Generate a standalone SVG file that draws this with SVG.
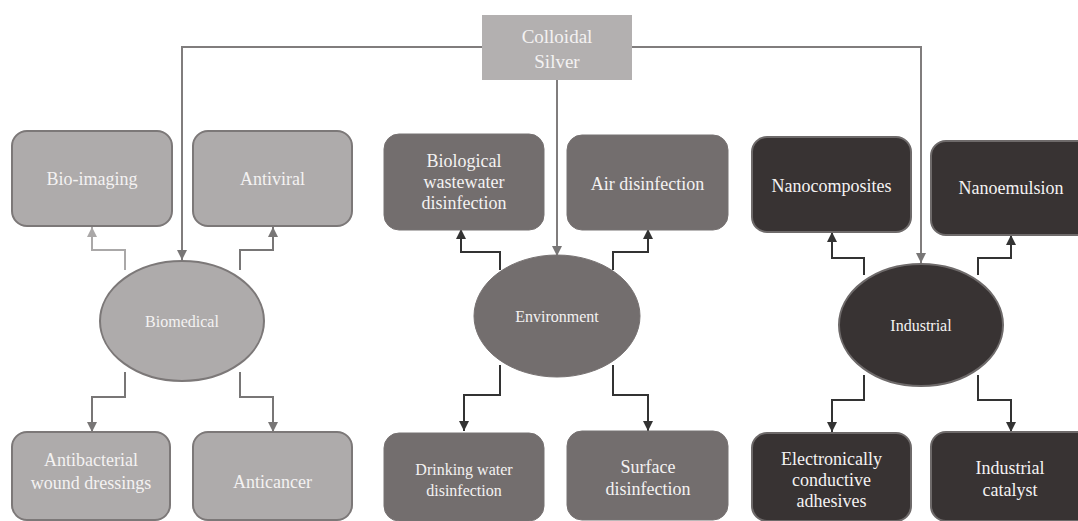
<svg xmlns="http://www.w3.org/2000/svg" width="1078" height="521" viewBox="0 0 1078 521" font-family="'Liberation Serif', 'DejaVu Serif', serif">
<style>
text{font-family:'Liberation Serif','DejaVu Serif',serif;fill:#f4f2f2;text-anchor:middle}
.t{font-size:18px}
.s{font-size:16px}
.e{font-size:16px}
.c{font-size:19px}
.bio{fill:#aeabab;stroke:#7c7878;stroke-width:2}
.env{fill:#736e6e;stroke:#777272;stroke-width:1}
.ind{fill:#383333;stroke:#6e6a6a;stroke-width:2}
.cl{fill:none;stroke-width:2}
</style>
<defs>
<marker id="aG" viewBox="0 0 10 10" refX="10" refY="5" markerWidth="5" markerHeight="5" orient="auto" markerUnits="strokeWidth"><path d="M0,0L10,5L0,10z" fill="#787676"/></marker>
<marker id="aL" viewBox="0 0 10 10" refX="10" refY="5" markerWidth="5" markerHeight="5" orient="auto" markerUnits="strokeWidth"><path d="M0,0L10,5L0,10z" fill="#aaa8a8"/></marker>
<marker id="aD" viewBox="0 0 10 10" refX="10" refY="5" markerWidth="5" markerHeight="5" orient="auto" markerUnits="strokeWidth"><path d="M0,0L10,5L0,10z" fill="#333"/></marker>
</defs>
<g id="connectors">
<path class="cl" stroke="#807d7d" d="M482,47H182V260" marker-end="url(#aG)"/>
<path class="cl" stroke="#807d7d" d="M632,47H921V263" marker-end="url(#aG)"/>
<path class="cl" stroke="#807d7d" d="M557,80V256" marker-end="url(#aG)"/>
<path class="cl" stroke="#aaa8a8" d="M125,270V250H92V227" marker-end="url(#aL)"/>
<path class="cl" stroke="#787676" d="M240,270V250H273V227" marker-end="url(#aG)"/>
<path class="cl" stroke="#787676" d="M125,372V397H92V432" marker-end="url(#aG)"/>
<path class="cl" stroke="#787676" d="M240,372V397H273V432" marker-end="url(#aG)"/>
<path class="cl" stroke="#333" d="M500,270V252H461V229" marker-end="url(#aD)"/>
<path class="cl" stroke="#333" d="M613,270V252H648V229" marker-end="url(#aD)"/>
<path class="cl" stroke="#333" d="M500,365V395H464V431" marker-end="url(#aD)"/>
<path class="cl" stroke="#333" d="M613,365V395H648V431" marker-end="url(#aD)"/>
<path class="cl" stroke="#333" d="M864,275V258H832V232" marker-end="url(#aD)"/>
<path class="cl" stroke="#333" d="M978,275V258H1011V235" marker-end="url(#aD)"/>
<path class="cl" stroke="#333" d="M864,375V400H832V432" marker-end="url(#aD)"/>
<path class="cl" stroke="#333" d="M978,375V400H1011V432" marker-end="url(#aD)"/>
</g>
<g id="colloidal-silver">
<rect x="482" y="15" width="150" height="65" fill="#b3b0b0"/>
<text class="c" x="557" y="43">Colloidal</text>
<text class="c" x="557" y="68">Silver</text>
</g>
<g id="biomedical">
<ellipse class="bio" cx="182" cy="321" rx="82" ry="60"/>
<text class="e" x="182" y="327">Biomedical</text>
</g>
<g id="bio-imaging">
<rect class="bio" x="12" y="131" width="160" height="95" rx="15"/>
<text class="t" x="92" y="185">Bio-imaging</text>
</g>
<g id="antiviral">
<rect class="bio" x="193" y="131" width="159" height="95" rx="15"/>
<text class="t" x="272.5" y="185">Antiviral</text>
</g>
<g id="antibacterial">
<rect class="bio" x="12" y="432" width="158" height="88" rx="15"/>
<text class="t" x="91" y="466">Antibacterial</text>
<text class="t" x="91" y="489">wound dressings</text>
</g>
<g id="anticancer">
<rect class="bio" x="193" y="432" width="159" height="88" rx="15"/>
<text class="t" x="272.5" y="488">Anticancer</text>
</g>
<g id="environment">
<ellipse class="env" cx="557" cy="316" rx="83" ry="61"/>
<text class="e" x="557" y="322">Environment</text>
</g>
<g id="biological-wastewater">
<rect class="env" x="384" y="134" width="160" height="96" rx="15"/>
<text class="t" x="464" y="167">Biological</text>
<text class="t" x="464" y="188">wastewater</text>
<text class="t" x="464" y="209">disinfection</text>
</g>
<g id="air-disinfection">
<rect class="env" x="567" y="135" width="161" height="95" rx="15"/>
<text class="t" x="647.5" y="190">Air disinfection</text>
</g>
<g id="drinking-water">
<rect class="env" x="384" y="433" width="160" height="88" rx="15"/>
<text class="s" x="464" y="475">Drinking water</text>
<text class="s" x="464" y="496">disinfection</text>
</g>
<g id="surface-disinfection">
<rect class="env" x="567" y="431" width="161" height="89" rx="15"/>
<text class="t" x="648" y="473">Surface</text>
<text class="t" x="648" y="495">disinfection</text>
</g>
<g id="industrial">
<ellipse class="ind" cx="921" cy="325" rx="82" ry="61"/>
<text class="e" x="921" y="331">Industrial</text>
</g>
<g id="nanocomposites">
<rect class="ind" x="752" y="137" width="159" height="95" rx="15"/>
<text class="t" x="831.5" y="192">Nanocomposites</text>
</g>
<g id="nanoemulsion">
<rect class="ind" x="931" y="141" width="162" height="94" rx="15"/>
<text class="t" x="1011" y="194">Nanoemulsion</text>
</g>
<g id="electronically-conductive">
<rect class="ind" x="752" y="433" width="159" height="88" rx="15"/>
<text class="t" x="831.5" y="465">Electronically</text>
<text class="t" x="831.5" y="486">conductive</text>
<text class="t" x="831.5" y="507">adhesives</text>
</g>
<g id="industrial-catalyst">
<rect class="ind" x="931" y="432" width="162" height="89" rx="15"/>
<text class="t" x="1010" y="474">Industrial</text>
<text class="t" x="1010" y="496">catalyst</text>
</g>
</svg>
